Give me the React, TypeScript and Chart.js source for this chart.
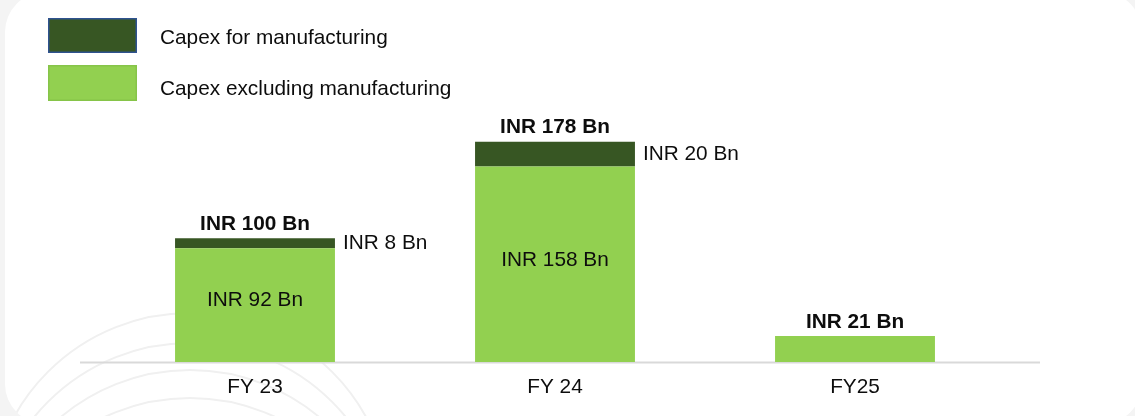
import React, { useEffect, useRef } from 'react';
import { Chart, registerables } from 'chart.js';

Chart.register(...registerables);

// ---- data ----
const categories = ['FY 23', 'FY 24', 'FY25'];
const capexExclManufacturing = [92, 158, 21];
const capexManufacturing = [8, 20, 0];
const totalCapex = [100, 178, 21];
const seriesNames = ['Capex excluding manufacturing', 'Capex for manufacturing'];
const yMax = 200;

// ---- styles ----
const FONT = '"Liberation Sans", Arial, Helvetica, sans-serif';
const FONT_SIZE = 20.8;
const LIGHT = '#92D050';
const DARK = '#375623';
const TEXT = '#0d0d0d';

function roundRectPath(ctx: CanvasRenderingContext2D, x: number, y: number, w: number, h: number, r: number) {
  ctx.beginPath();
  ctx.moveTo(x + r, y);
  ctx.lineTo(x + w - r, y);
  ctx.arcTo(x + w, y, x + w, y + r, r);
  ctx.lineTo(x + w, y + h - r);
  ctx.arcTo(x + w, y + h, x + w - r, y + h, r);
  ctx.lineTo(x + r, y + h);
  ctx.arcTo(x, y + h, x, y + h - r, r);
  ctx.lineTo(x, y + r);
  ctx.arcTo(x, y, x + r, y, r);
  ctx.closePath();
}

const backgroundPlugin = {
  id: 'cardBackground',
  beforeDraw(chart: any) {
    const { ctx, width, height } = chart;
    ctx.save();
    ctx.fillStyle = '#f4f4f4';
    ctx.fillRect(0, 0, width, height);
    roundRectPath(ctx, 5, -8, 1137, 432, 40);
    ctx.fillStyle = '#ffffff';
    ctx.fill();
    ctx.clip();
    ctx.strokeStyle = '#f0f0f0';
    ctx.lineWidth = 2;
    [514, 544, 571, 599].forEach((cy) => {
      ctx.beginPath();
      ctx.arc(190, cy, 201, Math.PI, 2 * Math.PI);
      ctx.stroke();
    });
    ctx.restore();
  },
};

const baselinePlugin = {
  id: 'baseline',
  beforeDatasetsDraw(chart: any) {
    const { ctx, chartArea } = chart;
    ctx.save();
    ctx.strokeStyle = '#d9d9d9';
    ctx.lineWidth = 2;
    ctx.beginPath();
    ctx.moveTo(chartArea.left - 25, chartArea.bottom + 0.5);
    ctx.lineTo(chartArea.right + 35, chartArea.bottom + 0.5);
    ctx.stroke();
    ctx.restore();
  },
};

const labelsPlugin = {
  id: 'barLabels',
  afterDatasetsDraw(chart: any) {
    const { ctx } = chart;
    const yScale = chart.scales.y;
    const meta0 = chart.getDatasetMeta(0);
    const meta1 = chart.getDatasetMeta(1);
    ctx.save();
    ctx.fillStyle = TEXT;
    ctx.textBaseline = 'middle';
    categories.forEach((_, i) => {
      const bar0 = meta0.data[i];
      const bar1 = meta1.data[i];
      const x = bar0.x;
      const half = bar0.width / 2;
      const topY = yScale.getPixelForValue(totalCapex[i]);

      ctx.font = `bold ${FONT_SIZE}px ${FONT}`;
      ctx.textAlign = 'center';
      ctx.fillText(`INR ${totalCapex[i]} Bn`, x, topY - 14);

      ctx.font = `${FONT_SIZE}px ${FONT}`;
      if (capexManufacturing[i] > 0) {
        ctx.textAlign = 'left';
        ctx.fillText(`INR ${capexManufacturing[i]} Bn`, x + half + 8, (bar1.y + bar1.base) / 2);
      }
      const h0 = bar0.base - bar0.y;
      if (h0 > 60) {
        ctx.textAlign = 'center';
        ctx.fillText(`INR ${capexExclManufacturing[i]} Bn`, x, (bar0.y + bar0.base) / 2 - 4.5);
      }
    });
    ctx.restore();
  },
};

const legendPlugin = {
  id: 'customLegend',
  afterDraw(chart: any) {
    const { ctx } = chart;
    const items = [
      { label: chart.data.datasets[1].label, color: chart.data.datasets[1].backgroundColor, border: '#2f528f', y: 18, h: 35, ty: 38.5 },
      { label: chart.data.datasets[0].label, color: chart.data.datasets[0].backgroundColor, border: '#86c449', y: 65, h: 36, ty: 89 },
    ];
    ctx.save();
    items.forEach((it) => {
      ctx.fillStyle = it.color;
      ctx.fillRect(48, it.y, 89, it.h);
      ctx.strokeStyle = it.border;
      ctx.lineWidth = 1.5;
      ctx.strokeRect(48.75, it.y + 0.75, 87.5, it.h - 1.5);
      ctx.fillStyle = TEXT;
      ctx.font = `${FONT_SIZE}px ${FONT}`;
      ctx.textAlign = 'left';
      ctx.textBaseline = 'middle';
      ctx.fillText(it.label, 160, it.ty);
    });
    ctx.restore();
  },
};

export default function App() {
  const canvasRef = useRef<HTMLCanvasElement | null>(null);

  useEffect(() => {
    if (!canvasRef.current) return;
    const chart = new Chart(canvasRef.current, {
      type: 'bar',
      data: {
        labels: categories,
        datasets: [
          {
            label: seriesNames[0],
            data: capexExclManufacturing,
            backgroundColor: LIGHT,
            borderWidth: 0,
            stack: 'capex',
          },
          {
            label: seriesNames[1],
            data: capexManufacturing,
            backgroundColor: DARK,
            borderWidth: 0,
            stack: 'capex',
          },
        ],
      },
      options: {
        responsive: false,
        animation: false,
        events: [],
        layout: { padding: { left: 105, right: 130, top: 114.5, bottom: 3 } },
        datasets: {
          bar: { categoryPercentage: 1, barPercentage: 0.533 },
        },
        scales: {
          x: {
            stacked: true,
            grid: { display: false, drawTicks: false },
            border: { display: false },
            ticks: {
              color: TEXT,
              padding: 13,
              font: { family: FONT, size: FONT_SIZE, lineHeight: 1.2 },
            },
          },
          y: {
            stacked: true,
            display: false,
            min: 0,
            max: yMax,
          },
        },
        plugins: {
          legend: { display: false },
          tooltip: { enabled: false },
          title: { display: false },
        },
      },
      plugins: [backgroundPlugin, baselinePlugin, labelsPlugin, legendPlugin],
    });
    return () => chart.destroy();
  }, []);

  return (
    <div style={{ position: 'fixed', left: 0, top: 0, width: 1135, height: 416, overflow: 'hidden' }}>
      <canvas ref={canvasRef} width={1135} height={416} style={{ display: 'block', width: 1135, height: 416 }} />
    </div>
  );
}
